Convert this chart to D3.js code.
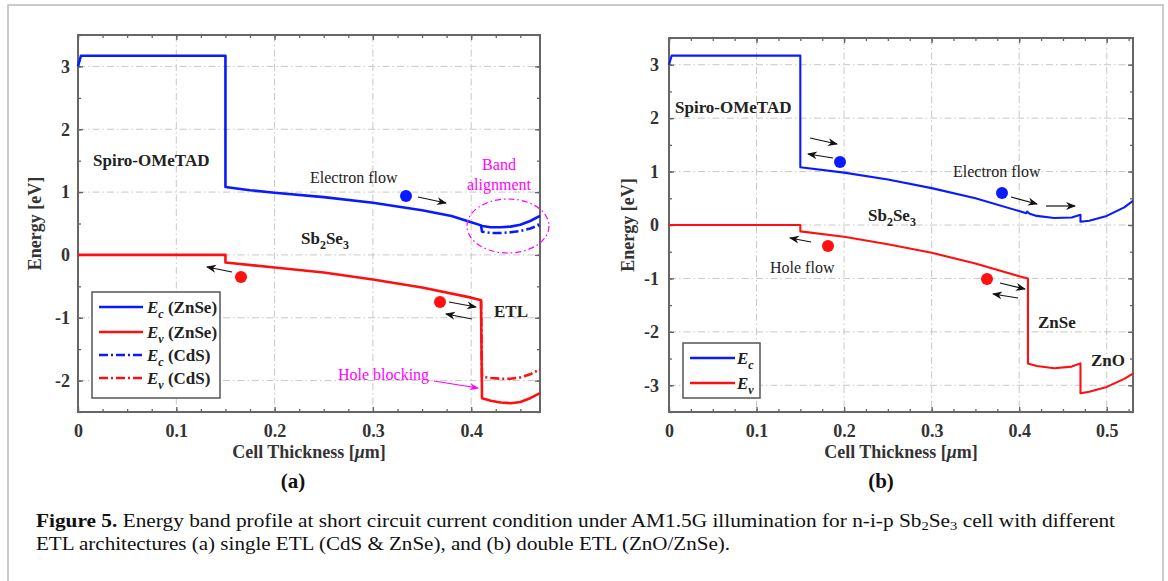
<!DOCTYPE html>
<html>
<head>
<meta charset="utf-8">
<script src="https://cdn.jsdelivr.net/npm/d3@7"></script>
<style>
  body { margin: 0; background: #fff; }
  svg text { font-family: "Liberation Serif", "Times New Roman", serif; }
</style>
</head>
<body>
<div id="fig"></div>
<script>
// ---- data ----
// panel (a): single ETL
var aEcX = [0, 0.003, 0.15, 0.15, 0.175, 0.2, 0.25, 0.3, 0.35, 0.38, 0.4, 0.41];
var aEcY = [3.0, 3.17, 3.17, 1.08, 1.03, 0.99, 0.92, 0.83, 0.71, 0.62, 0.52, 0.47];
var aEvX = [0, 0.15, 0.15, 0.2, 0.25, 0.3, 0.35, 0.4, 0.41];
var aEvY = [0, 0, -0.12, -0.2, -0.28, -0.39, -0.52, -0.68, -0.72];
var aTailX = [0.41, 0.411, 0.42, 0.43, 0.44, 0.45, 0.46, 0.47];
var aEcZnSe = [0.47, 0.46, 0.44, 0.44, 0.45, 0.48, 0.54, 0.62];
var aEcCdS = [0.47, 0.37, 0.35, 0.35, 0.36, 0.38, 0.42, 0.48];
var aEvZnSe = [-0.72, -2.28, -2.32, -2.35, -2.36, -2.34, -2.28, -2.2];
var aEvCdS = [-0.72, -1.94, -1.96, -1.97, -1.97, -1.95, -1.9, -1.82];

// panel (b): double ETL ZnO/ZnSe
var bEcX = [0, 0.003, 0.15, 0.15, 0.2, 0.25, 0.3, 0.35, 0.4, 0.408, 0.409, 0.412, 0.42, 0.44, 0.46, 0.47, 0.47, 0.48, 0.5, 0.52, 0.53];
var bEcY = [3.0, 3.17, 3.17, 1.08, 0.98, 0.85, 0.69, 0.5, 0.26, 0.22, 0.25, 0.21, 0.17, 0.13, 0.14, 0.19, 0.06, 0.08, 0.17, 0.33, 0.45];
var bEvX = [0, 0.15, 0.15, 0.2, 0.25, 0.3, 0.35, 0.4, 0.41, 0.41, 0.42, 0.44, 0.46, 0.47, 0.47, 0.48, 0.5, 0.52, 0.53];
var bEvY = [0, 0, -0.12, -0.22, -0.36, -0.52, -0.72, -0.96, -1.0, -2.59, -2.64, -2.68, -2.65, -2.59, -3.15, -3.12, -3.03, -2.88, -2.78];

var xTicksA = [0, 0.1, 0.2, 0.3, 0.4];
var xTicksB = [0, 0.1, 0.2, 0.3, 0.4, 0.5];
var yTicksA = [-2, -1, 0, 1, 2, 3];
var yTicksB = [-3, -2, -1, 0, 1, 2, 3];

var W = 1168, H = 581;
var svg = d3.select('#fig').append('svg').attr('width', W).attr('height', H);

svg.append('rect').attr('x', 8).attr('y', 5).attr('width', 1155).attr('height', 600)
  .attr('fill', 'none').attr('stroke', '#bbb').attr('stroke-width', 1.5);

var defs = svg.append('defs');
defs.append('marker').attr('id', 'arr').attr('viewBox', '0 0 10 10')
  .attr('refX', 9).attr('refY', 5).attr('markerWidth', 10).attr('markerHeight', 10)
  .attr('markerUnits', 'userSpaceOnUse').attr('orient', 'auto')
  .append('path').attr('d', 'M0,1 L10,5 L0,9 L3,5 Z').attr('fill', '#111');
defs.append('marker').attr('id', 'arrM').attr('viewBox', '0 0 10 10')
  .attr('refX', 9).attr('refY', 5).attr('markerWidth', 9).attr('markerHeight', 9)
  .attr('markerUnits', 'userSpaceOnUse').attr('orient', 'auto')
  .append('path').attr('d', 'M0,1 L10,5 L0,9 L3,5 Z').attr('fill', '#ff00ff');

function zip(xs, ys) { return xs.map(function(d, i) { return [d, ys[i]]; }); }

function panel(cfg) {
  var x = d3.scaleLinear().domain(cfg.xd).range([cfg.left, cfg.right]);
  var y = d3.scaleLinear().domain(cfg.yd).range([cfg.bottom, cfg.top]);
  var g = svg.append('g');

  // grid
  g.selectAll('.gx').data(cfg.xt.filter(function(d) { return d > cfg.xd[0]; }))
    .enter().append('line')
    .attr('x1', function(d) { return x(d); }).attr('x2', function(d) { return x(d); })
    .attr('y1', cfg.top).attr('y2', cfg.bottom)
    .attr('stroke', '#c8c8c8').attr('stroke-width', 1).attr('stroke-dasharray', '7,3,1.5,3');
  g.selectAll('.gy').data(cfg.yt)
    .enter().append('line')
    .attr('y1', function(d) { return y(d); }).attr('y2', function(d) { return y(d); })
    .attr('x1', cfg.left).attr('x2', cfg.right)
    .attr('stroke', '#c8c8c8').attr('stroke-width', 1).attr('stroke-dasharray', '7,3,1.5,3');

  var minorX = d3.range(cfg.xd[0], cfg.xd[1] + 1e-9, 0.025);
  var minorY = d3.range(cfg.yd[0], cfg.yd[1] + 1e-9, 0.5);
  var fx = function(d) { return d === 0 ? '0' : d3.format('.1f')(d); };
  var fy = function(d) { return String(d); };

  function ax(gen, tr, vals, size, fmt, pad) {
    var a = g.append('g').attr('transform', tr)
      .call(gen.tickValues(vals).tickSize(size).tickPadding(pad || 12).tickFormat(fmt));
    a.attr('font-family', null);
    a.select('.domain').remove();
    a.selectAll('line').attr('stroke', '#666').attr('stroke-width', 1.3);
    a.selectAll('text').attr('fill', '#333').attr('font-weight', 'bold')
      .attr('font-size', 18);
    return a;
  }
  var none = function() { return ''; };
  ax(d3.axisBottom(x), 'translate(0,' + cfg.bottom + ')', cfg.xt, -5, fx, 12);
  ax(d3.axisBottom(x), 'translate(0,' + cfg.bottom + ')', minorX, -3, none);
  ax(d3.axisTop(x), 'translate(0,' + cfg.top + ')', cfg.xt, -5, none);
  ax(d3.axisTop(x), 'translate(0,' + cfg.top + ')', minorX, -3, none);
  ax(d3.axisLeft(y), 'translate(' + cfg.left + ',0)', cfg.yt, -5, fy, cfg.ypad);
  ax(d3.axisLeft(y), 'translate(' + cfg.left + ',0)', minorY, -3, none);
  ax(d3.axisRight(y), 'translate(' + cfg.right + ',0)', cfg.yt, -5, none);
  ax(d3.axisRight(y), 'translate(' + cfg.right + ',0)', minorY, -3, none);

  g.append('rect').attr('x', cfg.left).attr('y', cfg.top)
    .attr('width', cfg.right - cfg.left).attr('height', cfg.bottom - cfg.top)
    .attr('fill', 'none').attr('stroke', '#666').attr('stroke-width', 2);

  var line = d3.line().x(function(d) { return x(d[0]); }).y(function(d) { return y(d[1]); });
  cfg.series.forEach(function(s) {
    g.append('path').datum(s.data).attr('d', line).attr('fill', 'none')
      .attr('stroke', s.color).attr('stroke-width', cfg.lw)
      .attr('stroke-dasharray', s.dash || null).attr('stroke-linejoin', 'round');
  });

  // axis titles
  g.append('text').attr('transform', 'translate(' + cfg.ylabX + ',' + ((cfg.top + cfg.bottom) / 2) + ') rotate(-90)')
    .attr('text-anchor', 'middle').attr('font-weight', 'bold').attr('font-size', 18).attr('fill', '#333')
    .text('Energy [eV]');
  var xl = g.append('text').attr('x', (cfg.left + cfg.right) / 2).attr('y', 458)
    .attr('text-anchor', 'middle').attr('font-weight', 'bold').attr('font-size', 18).attr('fill', '#333');
  xl.append('tspan').text('Cell Thickness [');
  xl.append('tspan').attr('font-style', 'italic').text('\u03bc');
  xl.append('tspan').text('m]');
  g.append('text').attr('x', cfg.panelX).attr('y', 488).attr('text-anchor', 'middle')
    .attr('font-weight', 'bold').attr('font-size', 21).attr('fill', '#111').text(cfg.name);

  cfg.x = x; cfg.y = y; cfg.g = g;
  return cfg;
}

function label(g, px, py, parts, opt) {
  opt = opt || {};
  var t = g.append('text').attr('x', px).attr('y', py)
    .attr('font-size', opt.size || 16).attr('font-weight', opt.bold ? 'bold' : 'normal')
    .attr('fill', opt.color || '#222').attr('text-anchor', opt.anchor || 'start');
  parts.forEach(function(p) {
    if (typeof p === 'string') t.append('tspan').text(p);
    else t.append('tspan').attr('font-size', p.sub ? (opt.size || 16) * 0.7 : null)
      .attr('dy', p.dy || 0).attr('font-style', p.it ? 'italic' : null).text(p.t);
  });
  return t;
}
function arrow(g, x1, y1, x2, y2, m) {
  g.append('line').attr('x1', x1).attr('y1', y1).attr('x2', x2).attr('y2', y2)
    .attr('stroke', m ? '#ff00ff' : '#111').attr('stroke-width', 1.2)
    .attr('marker-end', 'url(#' + (m ? 'arrM' : 'arr') + ')');
}
function dot(g, cx, cy, c) {
  g.append('circle').attr('cx', cx).attr('cy', cy).attr('r', 6).attr('fill', c);
}
function legend(g, bx, by, bw, bh, items, lineX1, lineX2, textX, rows) {
  g.append('rect').attr('x', bx).attr('y', by).attr('width', bw).attr('height', bh)
    .attr('fill', '#fff').attr('stroke', '#555').attr('stroke-width', 1.5);
  items.forEach(function(it, i) {
    g.append('line').attr('x1', lineX1).attr('x2', lineX2).attr('y1', rows[i]).attr('y2', rows[i])
      .attr('stroke', it.color).attr('stroke-width', 2.5).attr('stroke-dasharray', it.dash || null);
    var t = g.append('text').attr('x', textX).attr('y', rows[i] + 6).attr('font-size', 17)
      .attr('font-weight', 'bold').attr('fill', '#222');
    t.append('tspan').attr('font-style', 'italic').text('E');
    t.append('tspan').attr('font-style', 'italic').attr('font-size', 12).attr('dy', 5).text(it.sub);
    if (it.tail) t.append('tspan').attr('dy', -5).text(' ' + it.tail);
  });
}

var dashDot = '9,3,2,3';

// ---- panel (a) ----
var A = panel({
  xd: [0, 0.47], yd: [-2.5, 3.5], left: 78, right: 540, top: 35, bottom: 412, lw: 2.6,
  xt: xTicksA, yt: yTicksA, ylabX: 41, ypad: 8, panelX: 293, name: '(a)',
  series: [
    { data: zip(aTailX, aEcCdS), color: '#0a1aff', dash: dashDot },
    { data: zip(aTailX, aEvCdS), color: '#ff1010', dash: dashDot },
    { data: zip(aEcX, aEcY).concat(zip(aTailX, aEcZnSe)), color: '#0a1aff' },
    { data: zip(aEvX, aEvY).concat(zip(aTailX, aEvZnSe)), color: '#ff1010' }
  ]
});
var ga = A.g;
label(ga, 93, 166, ['Spiro-OMeTAD'], { bold: true, size: 17 });
label(ga, 301, 244, ['Sb', { t: '2', sub: true, dy: 5 }, { t: 'Se', dy: -5 }, { t: '3', sub: true, dy: 5 }], { bold: true, size: 17 });
label(ga, 310, 183, ['Electron flow'], { size: 16 });
dot(ga, 406, 196, '#0a1aff');
arrow(ga, 418, 197, 446, 203);
label(ga, 499, 170, ['Band'], { size: 16, color: '#ff00ff', anchor: 'middle' });
label(ga, 499, 190, ['alignment'], { size: 16, color: '#ff00ff', anchor: 'middle' });
ga.append('ellipse').attr('cx', 508).attr('cy', 226).attr('rx', 41).attr('ry', 27)
  .attr('fill', 'none').attr('stroke', '#ff00ff').attr('stroke-width', 1.2).attr('stroke-dasharray', '6,3,1.5,3');
dot(ga, 241, 277, '#ff1010');
arrow(ga, 232, 272, 207, 267);
dot(ga, 440, 302, '#ff1010');
arrow(ga, 449, 302, 476, 307);
arrow(ga, 472, 319, 446, 314);
label(ga, 494, 317, ['ETL'], { bold: true, size: 17 });
label(ga, 338, 380, ['Hole blocking'], { size: 16, color: '#ff00ff' });
arrow(ga, 434, 381, 478, 388, true);
legend(ga, 92, 292, 128, 106, [
  { color: '#0a1aff', sub: 'c', tail: '(ZnSe)' },
  { color: '#ff1010', sub: 'v', tail: '(ZnSe)' },
  { color: '#0a1aff', sub: 'c', tail: '(CdS)', dash: dashDot },
  { color: '#ff1010', sub: 'v', tail: '(CdS)', dash: dashDot }
], 99, 143, 147, [307, 332, 355, 378]);

// ---- panel (b) ----
var B = panel({
  xd: [0, 0.53], yd: [-3.5, 3.5], left: 669, right: 1133, top: 38, bottom: 412, lw: 2.1,
  xt: xTicksB, yt: yTicksB, ylabX: 634, ypad: 10, panelX: 881, name: '(b)',
  series: [
    { data: zip(bEcX, bEcY), color: '#0a1aff' },
    { data: zip(bEvX, bEvY), color: '#ff1010' }
  ]
});
var gb = B.g;
label(gb, 675, 113, ['Spiro-OMeTAD'], { bold: true, size: 17 });
arrow(gb, 810, 138, 837, 144);
arrow(gb, 833, 158, 808, 154);
dot(gb, 840, 162, '#0a1aff');
label(gb, 868, 221, ['Sb', { t: '2', sub: true, dy: 5 }, { t: 'Se', dy: -5 }, { t: '3', sub: true, dy: 5 }], { bold: true, size: 17 });
label(gb, 953, 177, ['Electron flow'], { size: 16 });
dot(gb, 1002, 193, '#0a1aff');
arrow(gb, 1011, 197, 1037, 204);
arrow(gb, 1046, 206, 1075, 206);
dot(gb, 828, 246, '#ff1010');
arrow(gb, 811, 242, 790, 238);
label(gb, 770, 273, ['Hole flow'], { size: 16 });
dot(gb, 987, 279, '#ff1010');
arrow(gb, 1000, 283, 1025, 289);
arrow(gb, 1018, 298, 993, 294);
label(gb, 1038, 328, ['ZnSe'], { bold: true, size: 17 });
label(gb, 1091, 366, ['ZnO'], { bold: true, size: 17 });
legend(gb, 683, 343, 77, 55, [
  { color: '#0a1aff', sub: 'c' },
  { color: '#ff1010', sub: 'v' }
], 690, 735, 737, [358, 383]);

// ---- caption ----
var cap = svg.append('text').attr('x', 36).attr('y', 527).attr('font-size', 19).attr('fill', '#111')
  .attr('textLength', 1079).attr('lengthAdjust', 'spacingAndGlyphs');
cap.append('tspan').attr('font-weight', 'bold').text('Figure 5.');
cap.append('tspan').text(' Energy band profile at short circuit current condition under AM1.5G illumination for n-i-p Sb');
cap.append('tspan').attr('font-size', 13).attr('dy', 3).text('2');
cap.append('tspan').attr('dy', -3).text('Se');
cap.append('tspan').attr('font-size', 13).attr('dy', 3).text('3');
cap.append('tspan').attr('dy', -3).text(' cell with different');
svg.append('text').attr('x', 36).attr('y', 550).attr('font-size', 19).attr('fill', '#111')
  .attr('textLength', 694).attr('lengthAdjust', 'spacingAndGlyphs')
  .text('ETL architectures (a) single ETL (CdS & ZnSe), and (b) double ETL (ZnO/ZnSe).');
</script>
</body>
</html>
